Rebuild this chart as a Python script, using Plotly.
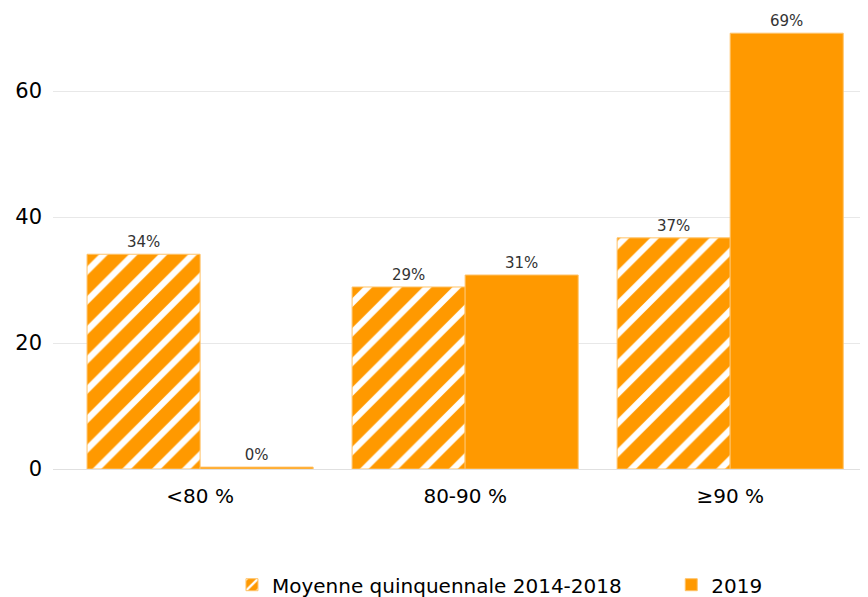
import plotly.graph_objects as go

categories = ["<80 %", "80-90 %", "≥90 %"]
moyenne = [34.1, 28.9, 36.7]
y2019 = [0.3, 30.8, 69.2]
labels_moyenne = ["34%", "29%", "37%"]
labels_2019 = ["0%", "31%", "69%"]
tick_vals = [0, 20, 40, 60]
series_names = ["Moyenne quinquennale 2014-2018", "2019"]

ORANGE = "#FF9900"
FONT = "DejaVu Sans"
PAD = "\u00a0" * 7  # extra gap between legend entries

fig = go.Figure()
fig.add_trace(go.Bar(
    name=series_names[0] + PAD,
    x=categories, y=moyenne,
    text=labels_moyenne, textposition="outside",
    textfont=dict(size=15, color="#333333", family=FONT),
    marker=dict(color=ORANGE,
                line=dict(color="#FFC266", width=1),
                pattern=dict(shape="/", bgcolor=ORANGE, fgcolor="white",
                             fgopacity=1, size=21, solidity=0.3,
                             fillmode="replace")),
    cliponaxis=False,
))
fig.add_trace(go.Bar(
    name=series_names[1],
    x=categories, y=y2019,
    text=labels_2019, textposition="outside",
    textfont=dict(size=15, color="#333333", family=FONT),
    marker=dict(color=ORANGE, line=dict(color="#FFC266", width=1)),
    cliponaxis=False,
))

fig.update_layout(
    width=860, height=589,
    margin=dict(l=45, r=0, t=0, b=128, autoexpand=False),
    plot_bgcolor="white", paper_bgcolor="white",
    font=dict(family=FONT, color="#000000", size=20),
    barmode="group", bargap=0.147, bargroupgap=0,
    showlegend=True,
    legend=dict(orientation="h", x=0.2196, xanchor="left", y=-0.251, yanchor="middle",
                font=dict(size=20, family=FONT), traceorder="normal"),
    xaxis=dict(tickfont=dict(size=20), showgrid=False, ticks="", showline=False,
               range=[-0.555, 2.52], ticklabelstandoff=13, automargin=False),
    yaxis=dict(range=[0, 73.2], tickvals=tick_vals, tickfont=dict(size=21),
               gridcolor="#e8e8e8", zeroline=True, zerolinecolor="#e0e0e0",
               zerolinewidth=1, ticks="", showline=False,
               ticklabelstandoff=10, automargin=False),
)

fig.write_html("out.html")
